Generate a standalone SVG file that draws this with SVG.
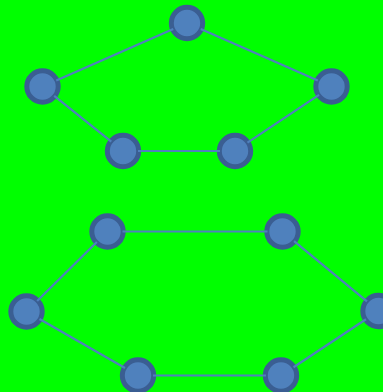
<svg xmlns="http://www.w3.org/2000/svg" width="383" height="392" viewBox="0 0 383 392">
<style>
.node{fill:#4f81bd;stroke:#3a5e92;stroke-width:5}
.edge{stroke:#4f81bd;stroke-width:2.2;fill:none}
</style>
<rect width="383" height="392" fill="#00ff00"/>
<g id="nodes">
<g id="n1"><circle class="node" cx="187" cy="23" r="15.7"/></g>
<g id="n2"><circle class="node" cx="42.5" cy="86.5" r="15.7"/></g>
<g id="n3"><circle class="node" cx="331.5" cy="86.5" r="15.7"/></g>
<g id="n4"><circle class="node" cx="123" cy="151" r="15.7"/></g>
<g id="n5"><circle class="node" cx="235" cy="151" r="15.7"/></g>
<g id="n6"><circle class="node" cx="107.5" cy="231.5" r="15.7"/></g>
<g id="n7"><circle class="node" cx="282.5" cy="231.5" r="15.7"/></g>
<g id="n8"><circle class="node" cx="26.5" cy="311.5" r="15.7"/></g>
<g id="n9"><circle class="node" cx="378.5" cy="311" r="15.7"/></g>
<g id="n10"><circle class="node" cx="138" cy="375.5" r="15.7"/></g>
<g id="n11"><circle class="node" cx="281" cy="375.5" r="15.7"/></g>
</g>
<g id="connectors">
<line class="edge" x1="173.26" y1="29.04" x2="56.24" y2="80.46"/>
<line class="edge" x1="200.74" y1="29.04" x2="317.76" y2="80.46"/>
<line class="edge" x1="54.21" y1="95.88" x2="111.29" y2="141.62"/>
<line class="edge" x1="138" y1="151" x2="220" y2="151"/>
<line class="edge" x1="247.47" y1="142.66" x2="319.03" y2="94.84"/>
<line class="edge" x1="122.5" y1="231.5" x2="267.5" y2="231.5"/>
<line class="edge" x1="96.83" y1="242.04" x2="37.17" y2="300.96"/>
<line class="edge" x1="294.05" y1="241.07" x2="366.95" y2="301.43"/>
<line class="edge" x1="39.51" y1="318.97" x2="124.99" y2="368.03"/>
<line class="edge" x1="153" y1="375.5" x2="266" y2="375.5"/>
<line class="edge" x1="293.51" y1="367.22" x2="365.99" y2="319.28"/>
</g>
</svg>
